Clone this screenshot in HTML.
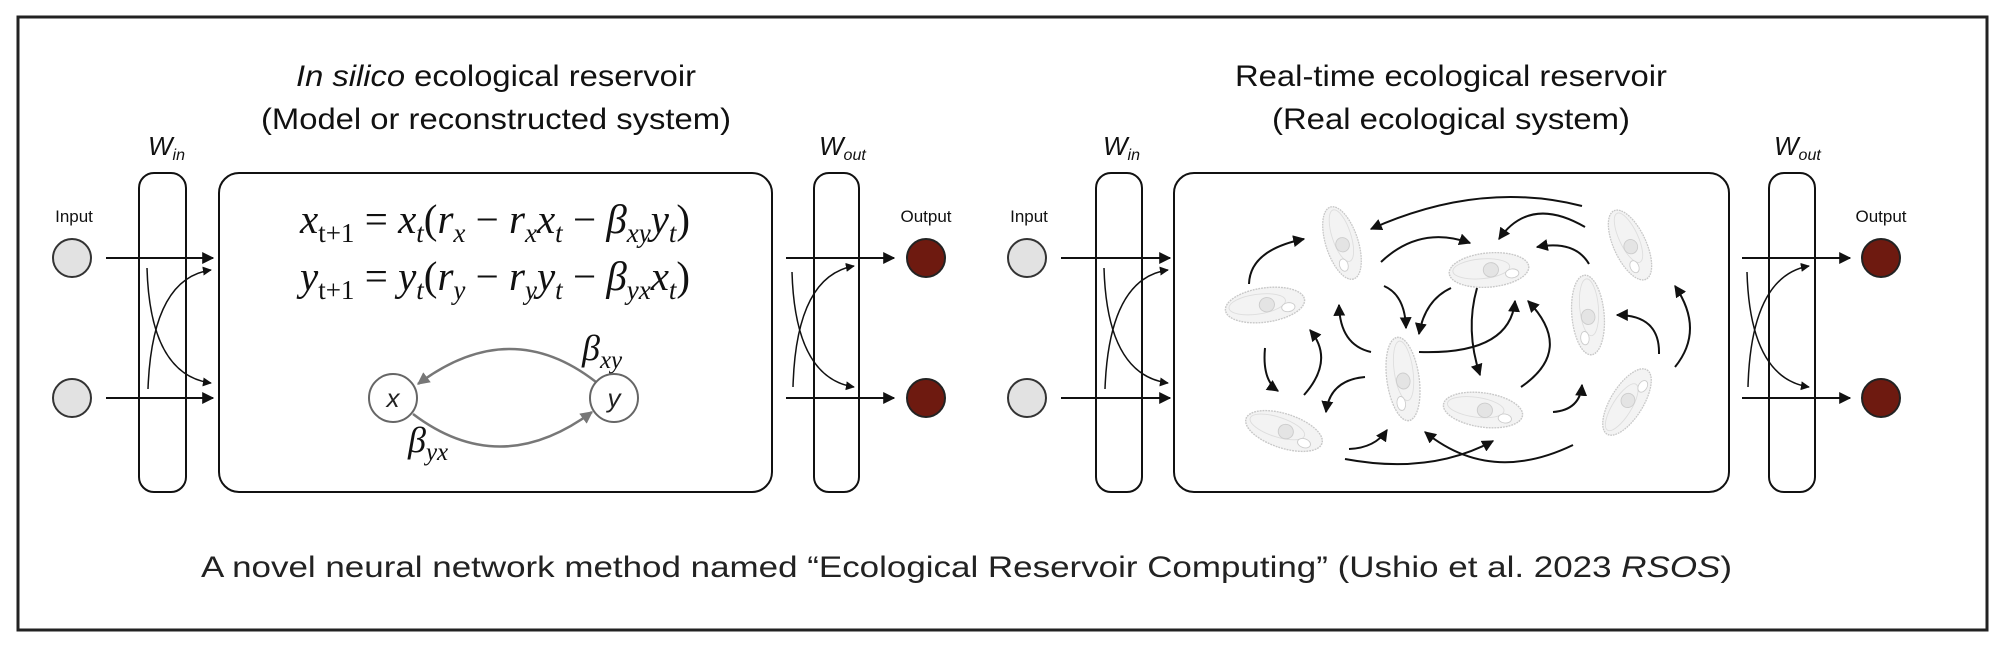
<!DOCTYPE html>
<html><head><meta charset="utf-8"><style>
html,body{margin:0;padding:0;background:#fff;}
svg{display:block;}
</style></head><body>
<svg width="2006" height="646" viewBox="0 0 2006 646" xmlns="http://www.w3.org/2000/svg">
<defs>
<marker id="ah" viewBox="0 0 10 10" refX="9" refY="5" markerWidth="6" markerHeight="6" orient="auto-start-reverse" markerUnits="strokeWidth"><path d="M0,0 L10,5 L0,10 z" fill="#111"/></marker>
<marker id="ag" viewBox="0 0 10 10" refX="9" refY="5" markerWidth="5" markerHeight="5" orient="auto" markerUnits="strokeWidth"><path d="M0,0 L10,5 L0,10 z" fill="#777"/></marker>
<g id="para">
<ellipse cx="0" cy="0" rx="42" ry="19" fill="#f3f3f3" stroke="#c8c8c8" stroke-width="1.5" stroke-dasharray="2 1"/>
<ellipse cx="-8" cy="-2" rx="30" ry="11" fill="none" stroke="#ddd" stroke-width="1"/>
<circle cx="2" cy="0" r="8" fill="#e4e4e4" stroke="#ccc"/>
<ellipse cx="24" cy="6" rx="7" ry="5" fill="#fff" stroke="#ccc"/>
</g>
</defs>
<rect x="18" y="17" width="1969" height="613" fill="#fff" stroke="#222" stroke-width="3"/>

<!-- LEFT PANEL -->
<g font-family="Liberation Sans, sans-serif" fill="#111">
<text x="496" y="86" font-size="30" text-anchor="middle" textLength="400" lengthAdjust="spacingAndGlyphs"><tspan font-style="italic">In silico</tspan> ecological reservoir</text>
<text x="496" y="129" font-size="30" text-anchor="middle" textLength="470" lengthAdjust="spacingAndGlyphs">(Model or reconstructed system)</text>
<text x="148" y="155" font-size="26" font-style="italic">W<tspan font-size="16" dy="5">in</tspan></text>
<text x="819" y="155" font-size="26" font-style="italic">W<tspan font-size="16" dy="5">out</tspan></text>
<text x="74" y="222" font-size="17" text-anchor="middle">Input</text>
<text x="926" y="222" font-size="17" text-anchor="middle">Output</text>
</g>
<rect x="139" y="173" width="47" height="319" rx="15" fill="none" stroke="#111" stroke-width="2"/>
<rect x="219" y="173" width="553" height="319" rx="20" fill="none" stroke="#111" stroke-width="2"/>
<rect x="814" y="173" width="45" height="319" rx="15" fill="none" stroke="#111" stroke-width="2"/>
<circle cx="72" cy="258" r="19" fill="#e2e2e2" stroke="#333" stroke-width="2"/>
<circle cx="72" cy="398" r="19" fill="#e2e2e2" stroke="#333" stroke-width="2"/>
<circle cx="926" cy="258" r="19" fill="#6e1a10" stroke="#222" stroke-width="2"/>
<circle cx="926" cy="398" r="19" fill="#6e1a10" stroke="#222" stroke-width="2"/>
<g stroke="#111" stroke-width="2" fill="none" marker-end="url(#ah)">
<path d="M106,258 L213,258"/><path d="M106,398 L213,398"/>
<path d="M147,268 Q150,375 211,383" stroke-width="1.5"/>
<path d="M148,389 Q152,278 211,270" stroke-width="1.5"/>
<path d="M786,258 L894,258"/><path d="M786,398 L894,398"/>
<path d="M792,272 Q795,378 854,387" stroke-width="1.5"/>
<path d="M793,387 Q796,276 854,266" stroke-width="1.5"/>
</g>
<!-- equations -->
<g font-family="Liberation Serif, serif" font-size="41" fill="#111">
<text x="300" y="233"><tspan font-style="italic">x</tspan><tspan font-size="27" dy="9">t+1</tspan><tspan dy="-9"> = </tspan><tspan font-style="italic">x</tspan><tspan font-size="27" dy="9" font-style="italic">t</tspan><tspan dy="-9">(</tspan><tspan font-style="italic">r</tspan><tspan font-size="27" dy="9" font-style="italic">x</tspan><tspan dy="-9"> − </tspan><tspan font-style="italic">r</tspan><tspan font-size="27" dy="9" font-style="italic">x</tspan><tspan dy="-9" font-style="italic">x</tspan><tspan font-size="27" dy="9" font-style="italic">t</tspan><tspan dy="-9"> − </tspan><tspan font-style="italic">β</tspan><tspan font-size="27" dy="9" font-style="italic">xy</tspan><tspan dy="-9" font-style="italic">y</tspan><tspan font-size="27" dy="9" font-style="italic">t</tspan><tspan dy="-9">)</tspan></text>
<text x="300" y="290"><tspan font-style="italic">y</tspan><tspan font-size="27" dy="9">t+1</tspan><tspan dy="-9"> = </tspan><tspan font-style="italic">y</tspan><tspan font-size="27" dy="9" font-style="italic">t</tspan><tspan dy="-9">(</tspan><tspan font-style="italic">r</tspan><tspan font-size="27" dy="9" font-style="italic">y</tspan><tspan dy="-9"> − </tspan><tspan font-style="italic">r</tspan><tspan font-size="27" dy="9" font-style="italic">y</tspan><tspan dy="-9" font-style="italic">y</tspan><tspan font-size="27" dy="9" font-style="italic">t</tspan><tspan dy="-9"> − </tspan><tspan font-style="italic">β</tspan><tspan font-size="27" dy="9" font-style="italic">yx</tspan><tspan dy="-9" font-style="italic">x</tspan><tspan font-size="27" dy="9" font-style="italic">t</tspan><tspan dy="-9">)</tspan></text>
</g>
<g font-family="Liberation Serif, serif" font-size="36" fill="#111">
<text x="582" y="360" font-style="italic">β<tspan font-size="25" dy="8">xy</tspan></text>
<text x="408" y="452" font-style="italic">β<tspan font-size="25" dy="8">yx</tspan></text>
</g>
<path d="M596,382 Q510,315 418,384" fill="none" stroke="#777" stroke-width="2.5" marker-end="url(#ag)"/>
<path d="M413,414 Q500,480 592,412" fill="none" stroke="#777" stroke-width="2.5" marker-end="url(#ag)"/>
<circle cx="393" cy="398" r="24" fill="#fff" stroke="#666" stroke-width="2"/>
<circle cx="614" cy="398" r="24" fill="#fff" stroke="#666" stroke-width="2"/>
<text x="393" y="407" font-family="Liberation Sans, sans-serif" font-size="26" font-style="italic" text-anchor="middle" fill="#222">x</text>
<text x="614" y="407" font-family="Liberation Sans, sans-serif" font-size="26" font-style="italic" text-anchor="middle" fill="#222">y</text>

<!-- RIGHT PANEL -->
<g font-family="Liberation Sans, sans-serif" fill="#111">
<text x="1451" y="86" font-size="30" text-anchor="middle" textLength="432" lengthAdjust="spacingAndGlyphs">Real-time ecological reservoir</text>
<text x="1451" y="129" font-size="30" text-anchor="middle" textLength="358" lengthAdjust="spacingAndGlyphs">(Real ecological system)</text>
<text x="1103" y="155" font-size="26" font-style="italic">W<tspan font-size="16" dy="5">in</tspan></text>
<text x="1774" y="155" font-size="26" font-style="italic">W<tspan font-size="16" dy="5">out</tspan></text>
<text x="1029" y="222" font-size="17" text-anchor="middle">Input</text>
<text x="1881" y="222" font-size="17" text-anchor="middle">Output</text>
</g>
<rect x="1096" y="173" width="46" height="319" rx="15" fill="none" stroke="#111" stroke-width="2"/>
<rect x="1174" y="173" width="555" height="319" rx="20" fill="none" stroke="#111" stroke-width="2"/>
<rect x="1769" y="173" width="46" height="319" rx="15" fill="none" stroke="#111" stroke-width="2"/>
<circle cx="1027" cy="258" r="19" fill="#e2e2e2" stroke="#333" stroke-width="2"/>
<circle cx="1027" cy="398" r="19" fill="#e2e2e2" stroke="#333" stroke-width="2"/>
<circle cx="1881" cy="258" r="19" fill="#6e1a10" stroke="#222" stroke-width="2"/>
<circle cx="1881" cy="398" r="19" fill="#6e1a10" stroke="#222" stroke-width="2"/>
<g stroke="#111" stroke-width="2" fill="none" marker-end="url(#ah)">
<path d="M1061,258 L1170,258"/><path d="M1061,398 L1170,398"/>
<path d="M1104,268 Q1107,375 1168,383" stroke-width="1.5"/>
<path d="M1105,389 Q1109,278 1168,270" stroke-width="1.5"/>
<path d="M1742,258 L1850,258"/><path d="M1742,398 L1850,398"/>
<path d="M1747,272 Q1750,378 1809,387" stroke-width="1.5"/>
<path d="M1748,387 Q1751,276 1809,266" stroke-width="1.5"/>
</g>
<!-- paramecia -->
<use href="#para" transform="translate(1342,243) rotate(72) scale(0.9,0.85)"/>
<use href="#para" transform="translate(1265,305) rotate(-8) scale(0.95,0.9)"/>
<use href="#para" transform="translate(1489,270) rotate(-5) scale(0.95,0.9)"/>
<use href="#para" transform="translate(1630,245) rotate(65) scale(0.9,0.85)"/>
<use href="#para" transform="translate(1588,315) rotate(85) scale(0.95,0.85)"/>
<use href="#para" transform="translate(1403,379) rotate(82) scale(1.0,0.85)"/>
<use href="#para" transform="translate(1284,431) rotate(18) scale(0.95,0.9)"/>
<use href="#para" transform="translate(1483,410) rotate(8) scale(0.95,0.9)"/>
<use href="#para" transform="translate(1627,402) rotate(-58) scale(0.9,0.85)"/>
<g stroke="#111" stroke-width="2" fill="none" marker-end="url(#ah)">
<path d="M1249,284 Q1250,250 1304,239"/>
<path d="M1381,262 Q1420,225 1470,243"/>
<path d="M1582,206 Q1480,180 1371,229"/>
<path d="M1585,227 Q1530,195 1499,239"/>
<path d="M1589,264 Q1575,240 1537,247"/>
<path d="M1384,286 Q1405,295 1406,328"/>
<path d="M1451,288 Q1425,300 1419,334"/>
<path d="M1477,288 Q1465,330 1480,375"/>
<path d="M1371,352 Q1340,345 1339,305"/>
<path d="M1419,352 Q1510,355 1515,301"/>
<path d="M1521,387 Q1575,350 1528,301"/>
<path d="M1659,354 Q1660,315 1617,315"/>
<path d="M1675,367 Q1705,330 1675,286"/>
<path d="M1265,348 Q1262,380 1278,391"/>
<path d="M1304,395 Q1335,360 1310,330"/>
<path d="M1365,377 Q1330,380 1326,412"/>
<path d="M1349,449 Q1375,448 1387,430"/>
<path d="M1345,459 Q1430,475 1493,441"/>
<path d="M1573,445 Q1490,485 1425,432"/>
<path d="M1553,412 Q1580,410 1582,385"/>
</g>

<text x="201" y="577" font-family="Liberation Sans, sans-serif" font-size="30" fill="#222" textLength="1531" lengthAdjust="spacingAndGlyphs">A novel neural network method named “Ecological Reservoir Computing” (Ushio et al. 2023 <tspan font-style="italic">RSOS</tspan>)</text>
</svg>
</body></html>
